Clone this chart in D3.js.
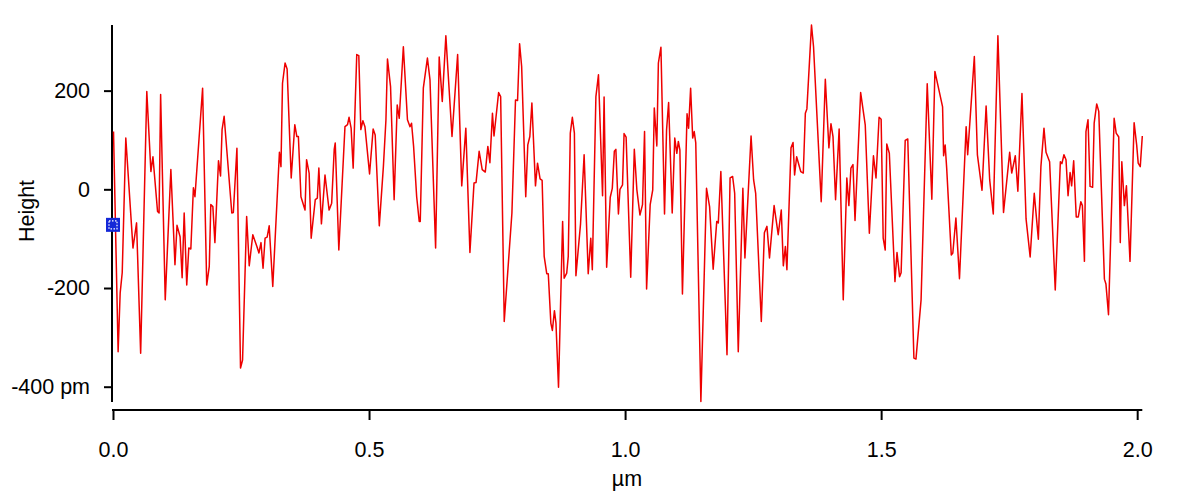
<!DOCTYPE html>
<html><head><meta charset="utf-8">
<script src="https://cdn.jsdelivr.net/npm/d3@7"></script>
<style>body{margin:0;background:#fff}svg{display:block}text{font-family:"Liberation Sans",Arial,sans-serif}</style>
</head><body><svg id="c" width="1200" height="493"></svg>
<script>
const xPos = [0.001,0.010,0.014,0.018,0.025,0.039,0.046,0.054,0.066,0.074,0.078,0.087,0.090,0.093,0.102,0.113,0.121,0.125,0.131,0.135,0.139,0.144,0.148,0.152,0.157,0.160,0.175,0.183,0.188,0.191,0.195,0.199,0.206,0.210,0.213,0.217,0.232,0.235,0.242,0.249,0.253,0.261,0.266,0.273,0.281,0.285,0.289,0.293,0.297,0.301,0.305,0.312,0.325,0.328,0.331,0.336,0.340,0.348,0.355,0.359,0.362,0.367,0.375,0.378,0.383,0.387,0.395,0.399,0.402,0.407,0.414,0.422,0.427,0.432,0.434,0.441,0.453,0.458,0.461,0.465,0.469,0.476,0.480,0.484,0.488,0.492,0.501,0.508,0.512,0.520,0.528,0.533,0.536,0.542,0.549,0.555,0.559,0.567,0.575,0.580,0.583,0.587,0.593,0.598,0.600,0.606,0.614,0.619,0.630,0.637,0.643,0.650,0.662,0.673,0.681,0.689,0.697,0.705,0.709,0.715,0.721,0.727,0.732,0.736,0.741,0.744,0.753,0.757,0.764,0.779,0.786,0.790,0.794,0.798,0.806,0.810,0.814,0.818,0.825,0.829,0.834,0.838,0.842,0.847,0.850,0.855,0.858,0.862,0.865,0.870,0.878,0.881,0.886,0.889,0.893,0.897,0.901,0.904,0.913,0.920,0.928,0.933,0.936,0.943,0.948,0.956,0.959,0.964,0.971,0.975,0.979,0.982,0.987,0.990,0.995,0.998,1.002,1.011,1.018,1.023,1.029,1.034,1.038,1.042,1.049,1.054,1.057,1.062,1.065,1.070,1.077,1.081,1.085,1.092,1.097,1.101,1.104,1.107,1.112,1.121,1.124,1.128,1.132,1.135,1.138,1.148,1.159,1.165,1.172,1.179,1.182,1.187,1.199,1.205,1.210,1.214,1.221,1.230,1.234,1.246,1.251,1.255,1.266,1.272,1.277,1.282,1.291,1.299,1.305,1.309,1.313,1.316,1.324,1.328,1.331,1.335,1.343,1.348,1.352,1.355,1.364,1.368,1.383,1.391,1.398,1.402,1.406,1.411,1.418,1.426,1.433,1.437,1.441,1.445,1.449,1.460,1.469,1.477,1.485,1.490,1.496,1.500,1.504,1.508,1.511,1.516,1.527,1.531,1.536,1.539,1.547,1.552,1.564,1.568,1.578,1.590,1.599,1.605,1.620,1.622,1.625,1.628,1.637,1.640,1.646,1.653,1.666,1.669,1.682,1.688,1.697,1.705,1.712,1.719,1.728,1.739,1.751,1.755,1.762,1.767,1.775,1.783,1.791,1.799,1.807,1.812,1.818,1.822,1.829,1.840,1.850,1.853,1.857,1.861,1.865,1.869,1.872,1.876,1.881,1.885,1.890,1.893,1.897,1.900,1.904,1.908,1.913,1.916,1.921,1.925,1.936,1.939,1.944,1.955,1.959,1.964,1.967,1.970,1.975,1.979,1.986,1.994,1.999,2.002,2.006,2.010];
const height = [117,-329,-210,-169,104,-119,-68,-332,198,36,66,-45,-48,192,-224,40,-153,-73,-96,-179,-48,-194,-119,-121,3,-15,205,-194,-156,-31,-35,-108,58,27,121,148,-48,-47,83,-362,-346,-55,-155,-92,-116,-129,-108,-160,-99,-97,-74,-197,75,46,215,256,244,23,131,107,107,-15,-42,60,33,-99,-21,-18,43,-70,29,-42,-28,81,94,-123,127,131,146,124,43,273,271,121,139,127,31,122,110,-74,46,141,264,208,-21,171,144,289,141,127,134,87,-15,-65,-65,205,266,222,-119,268,178,311,107,273,7,124,-128,13,14,77,40,35,87,54,154,108,196,188,-268,-48,181,180,295,249,-15,90,107,175,7,53,21,18,-136,-171,-171,-271,-286,-246,-271,-401,-65,-180,-170,-136,114,146,114,-175,-70,70,-171,-99,-163,188,232,-13,187,-158,-16,2,77,81,-50,0,9,113,106,-178,81,-1,-52,-31,117,-202,-31,-1,165,88,256,288,-50,121,176,-48,104,73,97,80,-212,153,124,205,104,117,94,-430,2,-35,-162,-65,-68,36,-335,23,26,-8,-329,2,-139,108,19,-8,-268,-88,-75,-139,-33,-92,-42,-155,-116,-163,84,95,29,66,36,33,154,163,333,289,-25,223,84,133,107,-21,122,-224,23,-33,43,50,-63,196,130,-89,68,23,146,142,-99,-123,92,73,-187,-128,-177,-169,99,102,-342,-344,-224,214,-20,239,167,68,90,43,-133,-129,-58,-181,127,70,269,70,-2,169,19,-50,311,-47,75,33,68,-4,194,-60,-137,-8,-101,46,124,75,56,-204,56,52,70,60,-13,34,7,58,-56,-56,-25,-33,-146,117,141,6,4,134,173,158,-182,-192,-254,144,114,106,-108,56,-33,7,-146,135,90,53,46,108];
const xTicks = [0, 0.5, 1.0, 1.5, 2.0];
const yTicks = [200, 0, -200, -400];
const yTickLabels = ["200", "0", "-200", "-400 pm"];
const xLabel = "µm", yLabel = "Height";
const cursorA = [0, -72];

const svg = d3.select("#c");
const x = d3.scaleLinear().domain([0, 2.01]).range([113, 1142.3]);
const y = d3.scaleLinear().domain([-431, 333]).range([402, 25]);
const data = xPos.map((v,i)=>[v,height[i]]);
const FS = 21.5;

// y axis
const ya = svg.append("g").attr("transform","translate(112,0)")
  .call(d3.axisLeft(y).tickValues(yTicks).tickSize(8).tickPadding(14).tickFormat((d,i)=>yTickLabels[i]));
ya.select(".domain").attr("d","M0,25V402").attr("stroke","#000").attr("stroke-width",2);
ya.selectAll(".tick line").attr("stroke","#000").attr("stroke-width",2);
ya.selectAll(".tick text").attr("font-size",FS).attr("fill","#000");

// x axis
const xa = svg.append("g").attr("transform","translate(0,410)")
  .call(d3.axisBottom(x).tickValues(xTicks).tickSize(10).tickPadding(22).tickFormat(d3.format(".1f")));
xa.select(".domain").attr("d","M112,0H1142.3").attr("stroke","#000").attr("stroke-width",2);
xa.selectAll(".tick line").attr("stroke","#000").attr("stroke-width",2);
xa.selectAll(".tick text").attr("font-size",FS).attr("fill","#000");

svg.append("text").attr("x",627).attr("y",486).attr("text-anchor","middle").attr("font-size",FS).text(xLabel);
svg.append("text").attr("transform","translate(34,211) rotate(-90)").attr("text-anchor","middle").attr("font-size",FS).text(yLabel);

svg.append("path").datum(data)
  .attr("d", d3.line().x(d=>x(d[0])).y(d=>y(d[1])))
  .attr("fill","none").attr("stroke","#ee0000").attr("stroke-width",1.5).attr("stroke-linejoin","round");

// cursor marker
const cx = x(cursorA[0]), cy = y(cursorA[1]);
svg.append("rect").attr("x",cx-7).attr("y",cy-7).attr("width",14).attr("height",14).attr("fill","#1428d8");
svg.append("rect").attr("x",cx-4).attr("y",cy-4).attr("width",8).attr("height",8).attr("fill","none")
  .attr("stroke","#fff").attr("stroke-width",1.2).attr("stroke-dasharray","1.5,1.5");
</script></body></html>
